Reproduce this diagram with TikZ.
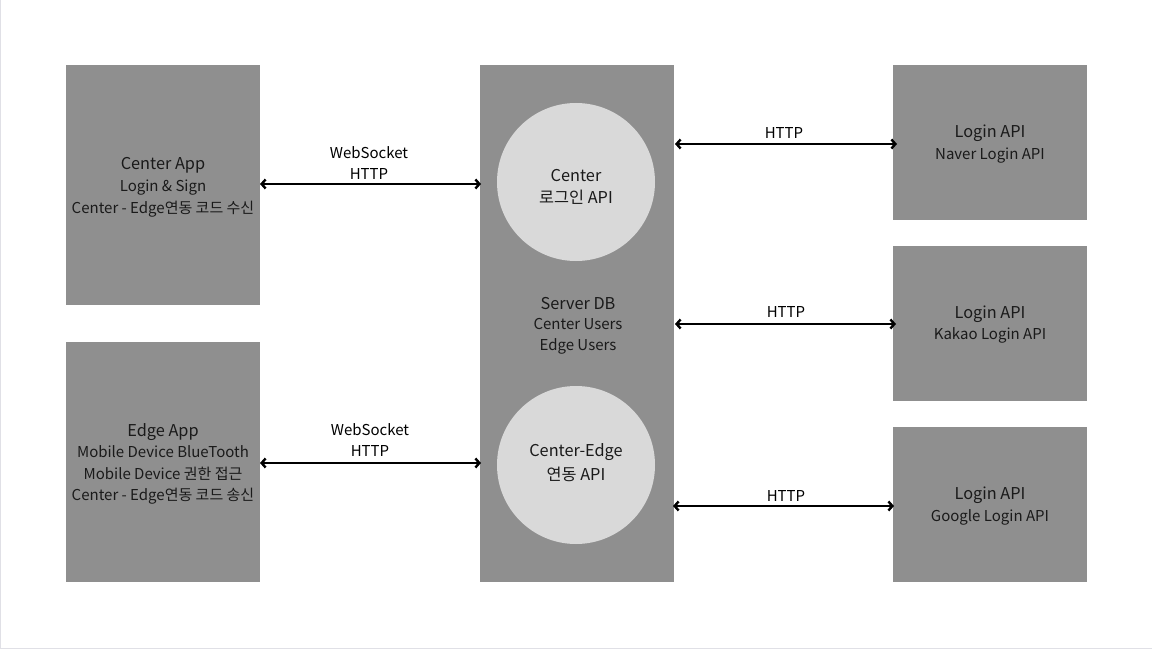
\documentclass[tikz,border=0pt]{standalone}
\usepackage{fontspec}
\setmainfont{Noto Sans CJK KR}
\usetikzlibrary{arrows.meta}
\begin{document}
\begin{tikzpicture}[x=1pt,y=-1pt,
  box/.style={fill=boxgray,draw=none,inner sep=0pt},
  circ/.style={circle,fill=circgray,draw=none,minimum size=158pt,inner sep=0pt},
  ttl/.style={font=\fontsize{16.3}{21.5}\selectfont,text=txt,align=center},
  sub/.style={font=\fontsize{15}{21.3}\selectfont,text=txt,align=center},
  lbl/.style={font=\fontsize{15}{21}\selectfont,text=black,align=center},
  link/.style={{Straight Barb[length=4pt,width=9pt]}-{Straight Barb[length=4pt,width=9pt]},line width=2.4pt,black}
]
\definecolor{boxgray}{HTML}{8F8F8F}
\definecolor{circgray}{HTML}{D9D9D9}
\definecolor{txt}{HTML}{1A1A1A}
\definecolor{frame}{HTML}{E0E0E6}
\useasboundingbox (0,0) rectangle (1152,650);
\fill[white] (0,0) rectangle (1152,650);
\draw[frame,line width=1pt] (0.5,0) -- (0.5,648.5) -- (1152,648.5);
% boxes
\node[box,minimum width=194pt,minimum height=240pt] (centerapp) at (163,185) {};
\node[box,minimum width=194pt,minimum height=240pt] (edgeapp) at (163,462) {};
\node[box,minimum width=194pt,minimum height=517pt] (server) at (577,323.5) {};
\node[box,minimum width=194pt,minimum height=155pt] (login1) at (990,142.5) {};
\node[box,minimum width=194pt,minimum height=155pt] (login2) at (990,323.5) {};
\node[box,minimum width=194pt,minimum height=155pt] (login3) at (990,504.5) {};
\node[circ] (c1) at (576,182) {};
\node[circ] (c2) at (576,465) {};
% texts
\node[ttl] (t1) at (163,165.5) {Center App};
\node[sub] (t1b) at (163,198.5) {Login \& Sign\\Center - Edge연동 코드 수신};
\node[ttl] (t2) at (163,432.5) {Edge App};
\node[sub] (t2b) at (163,475) {Mobile Device BlueTooth\\Mobile Device 권한 접근\\Center - Edge연동 코드 송신};
\node[ttl] (t3) at (576,175.5) {Center};
\node[ttl] (t3b) at (576,197.5) {로그인 API};
\node[ttl] (t4) at (578,303.5) {Server DB};
\node[sub] (t4b) at (578,336) {Center Users\\Edge Users};
\node[ttl] (t5) at (576,452.5) {Center-Edge};
\node[ttl] (t5b) at (576,474.5) {연동 API};
\node[ttl] (l1) at (990,133.5) {Login API};
\node[sub] (l1b) at (990,155.5) {Naver Login API};
\node[ttl] (l2) at (990,314.5) {Login API};
\node[sub] (l2b) at (990,335.5) {Kakao Login API};
\node[ttl] (l3) at (990,495.5) {Login API};
\node[sub] (l3b) at (990,517.5) {Google Login API};
% connectors
\coordinate (a1) at (260,184); \coordinate (b1) at (481,184);
\coordinate (a2) at (260,463); \coordinate (b2) at (481,463);
\coordinate (a3) at (675,144); \coordinate (b3) at (897,144);
\coordinate (a4) at (675,324); \coordinate (b4) at (896,324);
\coordinate (a5) at (673,506); \coordinate (b5) at (894,506);
\draw[link] (a1) -- (b1);
\draw[link] (a2) -- (b2);
\draw[link] (a3) -- (b3);
\draw[link] (a4) -- (b4);
\draw[link] (a5) -- (b5);
\node[lbl] (w1) at (369,163) {WebSocket\\HTTP};
\node[lbl] (w2) at (370,440) {WebSocket\\HTTP};
\node[lbl] (h1) at (784,133.5) {HTTP};
\node[lbl] (h2) at (786,312.5) {HTTP};
\node[lbl] (h3) at (786,495.5) {HTTP};
\end{tikzpicture}
\end{document}
